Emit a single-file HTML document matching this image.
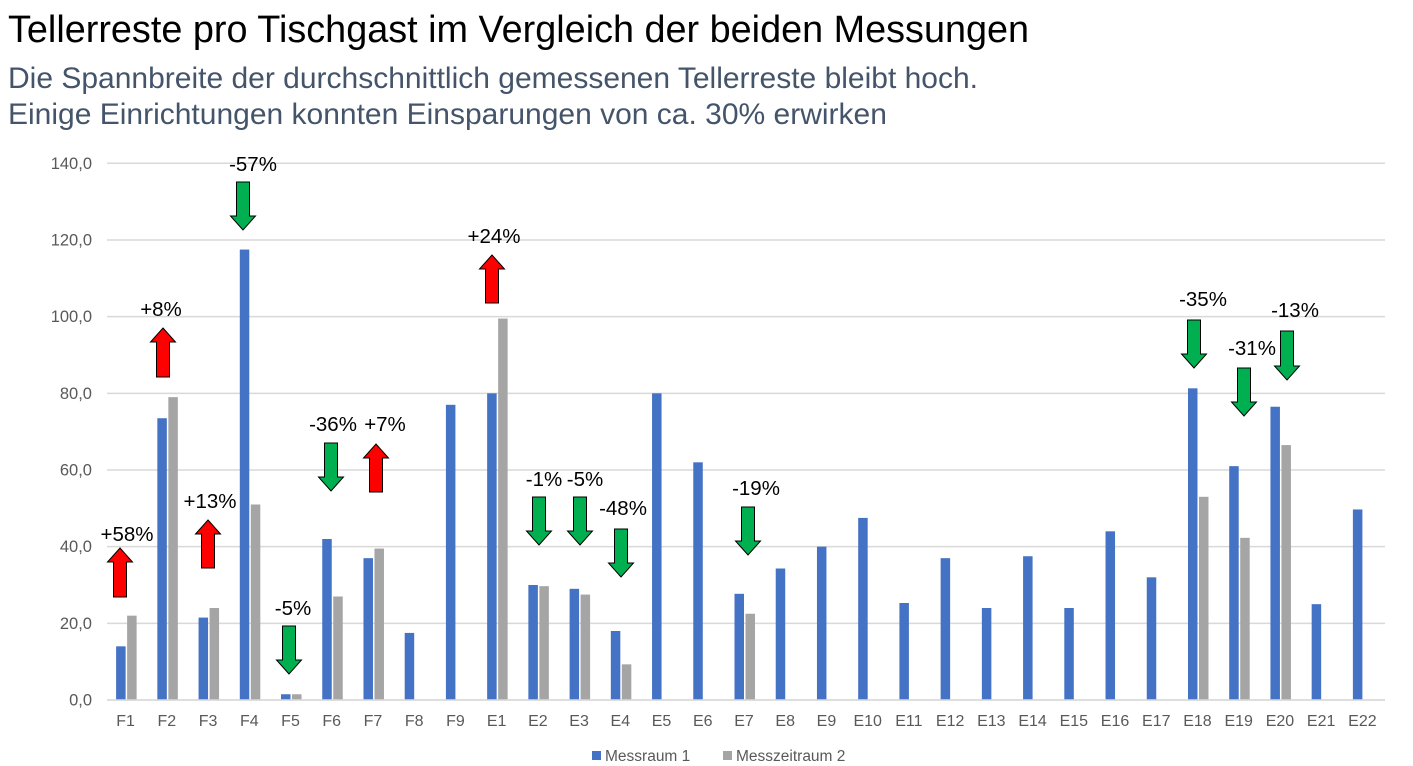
<!DOCTYPE html>
<html><head><meta charset="utf-8"><style>
html,body{margin:0;padding:0;background:#fff;width:1413px;height:766px;overflow:hidden}
svg{display:block;font-family:"Liberation Sans",Arial,sans-serif}
</style></head><body>
<svg id="s" width="1413" height="766" xmlns="http://www.w3.org/2000/svg">
<text x="8" y="42" font-size="37.8" fill="#000">Tellerreste pro Tischgast im Vergleich der beiden Messungen</text>
<text x="8" y="88" font-size="30" fill="#44546a">Die Spannbreite der durchschnittlich gemessenen Tellerreste bleibt hoch.</text>
<text x="8" y="124" font-size="30" fill="#44546a">Einige Einrichtungen konnten Einsparungen von ca. 30% erwirken</text>
<g id="g"></g>
<rect x="592" y="751" width="9" height="9" fill="#4472c4"/>
<text x="605" y="761" font-size="15.5" fill="#595959">Messraum 1</text>
<rect x="723" y="751" width="9" height="9" fill="#a5a5a5"/>
<text x="736" y="761" font-size="15.5" fill="#595959">Messzeitraum 2</text>
</svg>
<script>
var g=document.getElementById('g'),h='';
var L=107,R=1385,Y0=700,k=536.7/140;
for(var v=0;v<=140;v+=20){var y=Y0-v*k;h+='<line x1="'+L+'" x2="'+R+'" y1="'+y+'" y2="'+y+'" stroke="#d9d9d9" stroke-width="1.5"/>';
h+='<text x="92" y="'+(y+5.5)+'" font-size="16.5" fill="#595959" text-anchor="end">'+v.toFixed(1).replace('.',',')+'</text>';}
var cats=['F1','F2','F3','F4','F5','F6','F7','F8','F9','E1','E2','E3','E4','E5','E6','E7','E8','E9','E10','E11','E12','E13','E14','E15','E16','E17','E18','E19','E20','E21','E22'];
var b=[14,73.5,21.5,117.5,1.5,42,37,17.5,77,80,30,29,18,80,62,27.7,34.3,40,47.5,25.3,37,24,37.5,24,44,32,81.3,61,76.5,25,49.7];
var gr={0:22,1:79,2:24,3:51,4:1.5,5:27,6:39.5,9:99.5,10:29.7,11:27.5,12:9.3,15:22.5,26:53,27:42.3,28:66.5};
var w=(R-L)/31;
cats.forEach(function(c,i){var cx=L+w*(i+0.5);
var hb=b[i]*k;h+='<rect x="'+(cx-11.5)+'" y="'+(Y0-hb)+'" width="9.5" height="'+hb+'" fill="#4472c4"/>';
if(gr[i]!==undefined){var hg=gr[i]*k;h+='<rect x="'+(cx-0.5)+'" y="'+(Y0-hg)+'" width="9.5" height="'+hg+'" fill="#a5a5a5"/>';}
h+='<text x="'+(cx-2)+'" y="726" font-size="16" fill="#595959" text-anchor="middle">'+c+'</text>';});
h+='<line x1="'+L+'" x2="'+R+'" y1="'+Y0+'" y2="'+Y0+'" stroke="#d9d9d9" stroke-width="1.5"/>';
var A=[[120,548,597,1,'+58%',127,540],[163,328,377,1,'+8%',161,315],[208,520,568,1,'+13%',210,507],[243,182,230,0,'-57%',253,170],
[289,626,674,0,'-5%',293,614],[331,443,491,0,'-36%',333,430],[376,444,492,1,'+7%',385,430],[492,255,303,1,'+24%',494,242],
[539,497,545,0,'-1%',544,485],[580,497,545,0,'-5%',585,485],[621,529,577,0,'-48%',623,514],[748,507,555,0,'-19%',756,494],
[1194,320,368,0,'-35%',1203,305],[1244,368,416,0,'-31%',1252,354],[1287,331,380,0,'-13%',1295,316]];
A.forEach(function(a){var x=a[0],t=a[1],bo=a[2],col=a[3]?'#ff0000':'#00b050',p;
if(a[3])p=[[x,t],[x+12.5,t+14],[x+6.5,t+14],[x+6.5,bo],[x-6.5,bo],[x-6.5,t+14],[x-12.5,t+14]];
else p=[[x-6.5,t],[x+6.5,t],[x+6.5,bo-14],[x+12.5,bo-14],[x,bo],[x-12.5,bo-14],[x-6.5,bo-14]];
h+='<polygon points="'+p.map(function(q){return q.join(',')}).join(' ')+'" fill="'+col+'" stroke="#000" stroke-width="1"/>';
h+='<text x="'+a[5]+'" y="'+(a[6]+1)+'" font-size="20.5" fill="#000" text-anchor="middle">'+a[4]+'</text>';});
g.innerHTML=h;
</script>
</body></html>
